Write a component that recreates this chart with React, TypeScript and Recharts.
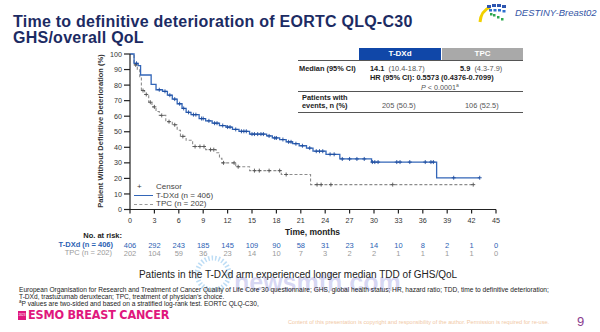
import React from "react";
import { LineChart, Line, XAxis, YAxis } from "recharts";

// x axis ticks (months) and numbers at risk
const months = [0, 3, 6, 9, 12, 15, 18, 21, 24, 27, 30, 33, 36, 39, 42, 45];
const yTicks = [0, 10, 20, 30, 40, 50, 60, 70, 80, 90, 100];
const tdxdAtRisk = [406, 292, 243, 185, 145, 109, 90, 58, 31, 23, 14, 10, 8, 2, 1, 0];
const tpcAtRisk = [202, 104, 59, 36, 23, 14, 10, 7, 3, 2, 2, 1, 1, 1, 1, 0];

// KM steps: time (months) -> % without deterioration
const tdxdTimes = [0, 0.5, 1.0, 1.3, 2.6, 3.2, 4.0, 4.6, 5.2, 5.8, 6.4, 6.9, 7.5, 8.5, 9.3, 10.1, 11.0, 11.8, 12.6, 13.4, 14.7, 16.8, 17.5, 18.4, 19.2, 20.0, 20.8, 21.7, 22.5, 24.1, 25.8, 29.7, 37.7];
const tdxdSurv = [100, 94, 92.5, 86.5, 80.5, 77, 76, 73.5, 71, 68, 65, 62.5, 61, 58.5, 57, 55.5, 54, 53, 51.5, 50.3, 48.5, 47.3, 46, 45, 43.5, 42.3, 41, 39.5, 37.5, 35.5, 32.5, 30.5, 20.4];
const tdxdEnd = 43;
const tdxdCensor = [0.8, 3.6, 4.3, 4.9, 5.5, 6.1, 6.6, 7.2, 7.8, 8.1, 8.8, 9.0, 9.7, 10.4, 10.7, 11.4, 12.0, 12.3, 13.0, 13.7, 14.0, 14.3, 15.0, 15.3, 15.7, 16.1, 16.4, 17.1, 17.8, 18.0, 18.8, 19.5, 19.8, 20.4, 21.2, 22.1, 22.9, 23.3, 23.7, 24.6, 25.1, 26.1, 27.0, 27.9, 28.8, 29.8, 30.1, 30.5, 32.8, 33.2, 34.4, 36.3, 37.0, 37.3, 39.8, 43.0];

const tpcTimes = [0, 0.5, 0.9, 1.2, 1.4, 1.8, 2.3, 2.7, 3.2, 3.6, 4.4, 5.2, 5.8, 6.2, 6.9, 7.7, 9.3, 10.6, 11.0, 11.3, 13.0, 14.7, 18.6, 22.2];
const tpcSurv = [100, 93, 90, 85, 76.5, 74, 69, 66, 63, 60.5, 56.5, 54.5, 51, 47, 44.5, 40.5, 38.5, 36.5, 33, 30, 27.5, 25, 22.5, 16];
const tpcEnd = 42.2;
const tpcCensor = [0.7, 1.6, 2.0, 2.5, 3.0, 3.9, 4.8, 5.5, 6.5, 8.0, 8.6, 9.1, 9.9, 10.3, 11.5, 12.8, 13.3, 15.3, 15.9, 17.1, 18.4, 19.2, 23.0, 23.5, 24.7, 32.3, 42.2];

type Pt = { t: number; v: number; c: boolean };

function buildSeries(times: number[], surv: number[], censor: number[], end: number): Pt[] {
  const valueAt = (t: number) => {
    let v = surv[0];
    times.forEach((s, i) => {
      if (s <= t) v = surv[i];
    });
    return v;
  };
  const pts: Pt[] = times.map((t, i) => ({ t, v: surv[i], c: false }));
  censor.forEach((t) => pts.push({ t, v: valueAt(t), c: true }));
  if (!censor.includes(end)) pts.push({ t: end, v: valueAt(end), c: false });
  return pts.sort((a, b) => a.t - b.t || Number(a.c) - Number(b.c));
}

const tdxdData = buildSeries(tdxdTimes, tdxdSurv, tdxdCensor, tdxdEnd);
const tpcData = buildSeries(tpcTimes, tpcSurv, tpcCensor, tpcEnd);

const BLUE = "#3366b8";
const DARKBLUE = "#1d4c9e";
const GREY = "#8c8c8c";
const FONT = "'Liberation Sans', Arial, sans-serif";

const censorDot = (color: string) => (props: any) => {
  const { cx, cy, payload, index } = props;
  if (!payload || !payload.c) return <g key={`n${index}`} />;
  return (
    <g key={`c${index}`} stroke={color} strokeWidth={0.9}>
      <line x1={cx - 2} y1={cy} x2={cx + 2} y2={cy} />
      <line x1={cx} y1={cy - 2} x2={cx} y2={cy + 2} />
    </g>
  );
};

const MonthTick = (props: any) => {
  const { x, y, payload } = props;
  const i = months.indexOf(payload.value);
  return (
    <g fontFamily={FONT}>
      <text x={x} y={y} dy="0.71em" textAnchor="middle" fontSize={7.2} fill="#333">
        {payload.value}
      </text>
      <text x={x} y={y + 30.5} textAnchor="middle" fontSize={7.5} fill="#2c62b4">
        {tdxdAtRisk[i]}
      </text>
      <text x={x} y={y + 38.8} textAnchor="middle" fontSize={7.5} fill="#9a9a9a">
        {tpcAtRisk[i]}
      </text>
    </g>
  );
};

const T = ({ x, y, size, children, style }: any) => (
  <div
    style={{
      position: "absolute",
      left: x,
      top: y - size / 2,
      fontSize: size,
      lineHeight: 1,
      whiteSpace: "nowrap",
      ...style,
    }}
  >
    {children}
  </div>
);

const Logo = () => (
  <svg width={34} height={22} style={{ position: "absolute", left: 476, top: 2 }}>
    <path d="M4,20 Q5,9 14,5" stroke="#f2d000" strokeWidth={3} fill="none" />
    {[0, 1, 2, 3].map((k) => (
      <rect key={`a${k}`} x={11 + k * 5} y={2 + (k === 0 || k === 3 ? 1 : 0)} width={4} height={3} fill="#2d55b0" />
    ))}
    {[0, 1, 2, 3].map((k) => (
      <rect key={`b${k}`} x={13 + k * 4.5} y={7 + (k === 3 ? 1 : 0)} width={3} height={2.5} fill="#2d6fd0" />
    ))}
    {[0, 1, 2].map((k) => (
      <rect key={`g${k}`} x={17 + k * 4} y={12 + k * 2} width={2.5} height={2.5} fill="#2fa84f" />
    ))}
    <rect x={14} y={11} width={2.5} height={2.5} fill="#2fa84f" />
  </svg>
);

const TableBlock = () => {
  const hd = { color: "#fff", fontWeight: 700, fontSize: 8, textAlign: "center" as const, lineHeight: "12px" };
  const num = { color: "#555" };
  return (
    <>
      <div style={{ position: "absolute", left: 359, top: 48, width: 82, height: 12, background: "#1047a8", ...hd }}>T-DXd</div>
      <div style={{ position: "absolute", left: 442, top: 48, width: 81, height: 12, background: "#a9a9a9", ...hd }}>TPC</div>
      <div style={{ position: "absolute", left: 298, top: 60, width: 225, height: 1, background: "#555" }} />
      <T x={299} y={68.3} size={7.4} style={{ fontWeight: 700, color: "#222" }}>Median (95% CI)</T>
      <T x={370} y={68.3} size={7.4} style={num}>
        <b style={{ color: "#222" }}>14.1</b>&nbsp; (10.4-18.7)
      </T>
      <T x={460} y={68.3} size={7.4} style={num}>
        <b style={{ color: "#222" }}>5.9</b>&nbsp; (4.3-7.9)
      </T>
      <T x={370} y={77.7} size={7.4} style={{ fontWeight: 700, color: "#222" }}>HR (95% CI): 0.5573 (0.4376-0.7099)</T>
      <T x={421} y={86.7} size={7.2} style={num}>
        <i>P</i> &lt; 0.0001<sup style={{ fontSize: 5 }}>a</sup>
      </T>
      <div style={{ position: "absolute", left: 298, top: 91, width: 225, height: 1.2, background: "#555" }} />
      <T x={302} y={97.3} size={7.4} style={{ fontWeight: 700, color: "#222" }}>Patients with</T>
      <T x={302} y={106} size={7.4} style={{ fontWeight: 700, color: "#222" }}>events, n (%)</T>
      <T x={382} y={106} size={7.4} style={num}>205 (50.5)</T>
      <T x={465} y={106} size={7.4} style={num}>106 (52.5)</T>
      <div style={{ position: "absolute", left: 298, top: 112, width: 225, height: 1.2, background: "#555" }} />
    </>
  );
};

const Legend = () => (
  <>
    <T x={137} y={187} size={8} style={{ color: "#333" }}>+</T>
    <T x={156} y={187} size={8} style={{ color: "#444" }}>Censor</T>
    <div style={{ position: "absolute", left: 134, top: 195, width: 19, height: 1.2, background: BLUE }} />
    <T x={156} y={195.6} size={8} style={{ color: "#444" }}>T-DXd (n = 406)</T>
    <div style={{ position: "absolute", left: 134, top: 203.5, width: 19, height: 0, borderTop: "1.2px dashed #999" }} />
    <T x={156} y={204.2} size={8} style={{ color: "#444" }}>TPC (n = 202)</T>
  </>
);

const titleStyle = { fontSize: 16, lineHeight: 1, fontWeight: 700, color: "#1c2b63", letterSpacing: 0.25, whiteSpace: "nowrap" as const };

export default function App() {
  return (
    <div
      style={{
        position: "absolute",
        left: 0,
        top: 0,
        width: 600,
        height: 332,
        background: "#fff",
        overflow: "hidden",
        fontFamily: FONT,
      }}
    >
      <div style={{ position: "absolute", left: 13, top: 13.5, ...titleStyle }}>Time to definitive deterioration of EORTC QLQ-C30</div>
      <div style={{ position: "absolute", left: 13, top: 29.6, ...titleStyle }}>GHS/overall QoL</div>
      <Logo />
      <T x={515} y={13} size={9.5} style={{ fontStyle: "italic", color: "#3355a5" }}>DESTINY-Breast02</T>

      <div style={{ position: "absolute", left: 0, top: 0 }}>
        <LineChart width={600} height={332} margin={{ top: 54, right: 104, bottom: 102.5, left: 100 }}>
          <XAxis
            dataKey="t"
            type="number"
            domain={[0, 45]}
            ticks={months}
            interval={0}
            height={20}
            tick={<MonthTick />}
            tickSize={4}
            tickMargin={4}
            stroke="#222"
            strokeWidth={1.2}
            allowDataOverflow
          />
          <YAxis
            type="number"
            domain={[0, 100]}
            ticks={yTicks}
            interval={0}
            width={30}
            tickSize={6}
            tickMargin={2}
            stroke="#222"
            strokeWidth={1.2}
            tick={{ fontSize: 7.2, fill: "#333", fontFamily: FONT }}
          />
          <Line
            data={tpcData}
            dataKey="v"
            type="stepAfter"
            stroke={GREY}
            strokeWidth={1.1}
            strokeDasharray="3 2"
            dot={censorDot("#555")}
            activeDot={false}
            isAnimationActive={false}
          />
          <Line
            data={tdxdData}
            dataKey="v"
            type="stepAfter"
            stroke={BLUE}
            strokeWidth={1.3}
            dot={censorDot(DARKBLUE)}
            activeDot={false}
            isAnimationActive={false}
          />
        </LineChart>
      </div>

      <div
        style={{
          position: "absolute",
          left: 1,
          top: 126,
          width: 200,
          textAlign: "center",
          fontSize: 7.5,
          lineHeight: "10px",
          fontWeight: 700,
          color: "#333",
          transform: "rotate(-90deg)",
          transformOrigin: "100px 5px",
          whiteSpace: "nowrap",
        }}
      >
        Patient Without Definitive Deterioration (%)
      </div>

      <TableBlock />
      <Legend />

      <T x={285} y={232} size={8.5} style={{ fontWeight: 700, color: "#222" }}>Time, months</T>
      <div style={{ position: "absolute", left: 0, top: 231.5, width: 122, textAlign: "right", fontSize: 7.5, lineHeight: 1, fontWeight: 700, color: "#222" }}>No. at risk:</div>
      <div style={{ position: "absolute", left: 0, top: 241, width: 113, textAlign: "right", fontSize: 7.5, lineHeight: 1, fontWeight: 700, color: "#2c62b4" }}>T-DXd (n = 406)</div>
      <div style={{ position: "absolute", left: 0, top: 249.3, width: 112, textAlign: "right", fontSize: 7.5, lineHeight: 1, color: "#9a9a9a" }}>TPC (n = 202)</div>

      {/* watermark */}
      <svg width={50} height={50} style={{ position: "absolute", left: 188, top: 249 }}>
        <circle cx={25} cy={25} r={16} stroke="rgba(90,170,230,0.4)" strokeWidth={5} strokeDasharray="1.5 2" fill="none" />
      </svg>
      <T x={234} y={282} size={25} style={{ fontWeight: 700, color: "rgba(150,150,225,0.38)" }}>newsmth.com</T>

      <div style={{ position: "absolute", left: 0, top: 270, width: 596, textAlign: "center", fontSize: 10, lineHeight: 1, color: "#222" }}>
        Patients in the T-DXd arm experienced longer median TDD of GHS/QoL
      </div>

      <div style={{ position: "absolute", left: 19, top: 286, fontSize: 6.6, lineHeight: "7px", color: "#222" }}>
        European Organisation for Research and Treatment of Cancer Quality of Life Core 30 questionnaire; GHS, global health status; HR, hazard ratio; TDD, time to definitive deterioration;
        <br />
        T-DXd, trastuzumab deruxtecan; TPC, treatment of physician’s choice.
        <br />
        <sup style={{ fontSize: 4.5, lineHeight: 0 }}>a</sup>P values are two-sided and based on a stratified log-rank test. EORTC QLQ-C30,
      </div>

      <div style={{ position: "absolute", left: 18, top: 310.5, width: 8, height: 9, background: "#e0177d", color: "#fff", fontSize: 3, lineHeight: "9px", textAlign: "center" }}>2023</div>
      <T x={28} y={315.5} size={12.5} style={{ fontWeight: 700, color: "#e0177d", fontFamily: "'DejaVu Sans Condensed', 'Liberation Sans Narrow', sans-serif", letterSpacing: -0.2 }}>
        ESMO BREAST CANCER
      </T>
      <T x={288} y={322.5} size={5.6} style={{ color: "#f1c8a4" }}>
        Content of this presentation is copyright and responsibility of the author. Permission is required for re-use.
      </T>
      <T x={577} y={321} size={13} style={{ color: "#8a3d8f" }}>9</T>
    </div>
  );
}
